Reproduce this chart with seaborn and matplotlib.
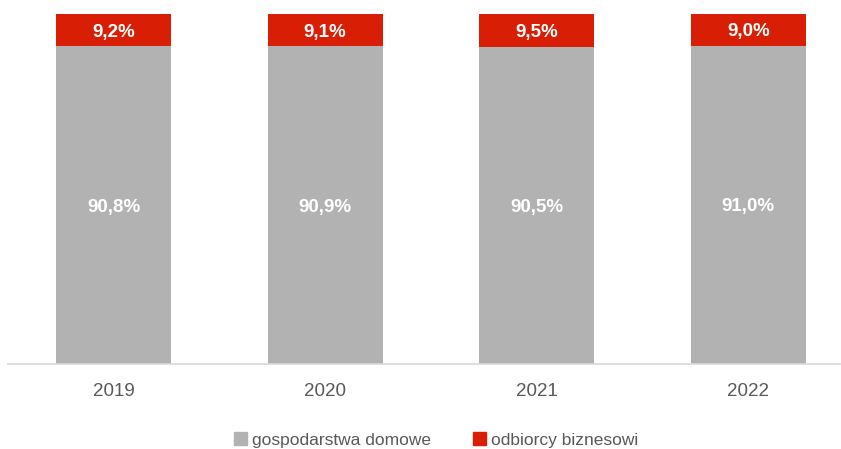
import pandas as pd
import seaborn as sns
import matplotlib.pyplot as plt

years = ['2019', '2020', '2021', '2022']
domowe = [90.8, 90.9, 90.5, 91.0]
biznes = [9.2, 9.1, 9.5, 9.0]

grey = '#b2b2b2'
red = '#d81e05'

sns.set_theme(style='white')
plt.rcParams['font.family'] = ['Liberation Sans Narrow', 'Liberation Sans', 'DejaVu Sans']

df = pd.DataFrame({'rok': years, 'domowe': domowe, 'biznes': biznes})
df['suma'] = df['domowe'] + df['biznes']

fig = plt.figure(figsize=(8.41, 4.49), dpi=100)
ax = fig.add_axes([8 / 841, 1 - 364 / 449, 832 / 841, 350 / 449])

# red on the full height, grey drawn over it from the bottom
sns.barplot(data=df, x='rok', y='suma', color=red, saturation=1, width=0.545,
            linewidth=0, ax=ax)
sns.barplot(data=df, x='rok', y='domowe', color=grey, saturation=1, width=0.545,
            linewidth=0, ax=ax)

for i, row in df.iterrows():
    ax.text(i, row['domowe'] / 2 - 0.6, f"{row['domowe']:.1f}%".replace('.', ','),
            ha='center', va='center', color='white', fontsize=13.5, fontweight='bold')
    ax.text(i, row['domowe'] + row['biznes'] / 2 - 0.6, f"{row['biznes']:.1f}%".replace('.', ','),
            ha='center', va='center', color='white', fontsize=13.5, fontweight='bold')

ax.set_xlim(-0.5, -0.5 + 832 / 211.5)
ax.set_ylim(0, 100)
ax.set(xlabel='', ylabel='', yticks=[])
for s in ['top', 'right', 'left']:
    ax.spines[s].set_visible(False)
ax.spines['bottom'].set_color('#d9d9d9')
ax.tick_params(axis='x', length=0, pad=14, labelsize=13.5, labelcolor='#595959')

handles = [plt.Rectangle((0, 0), 1, 1, color=grey), plt.Rectangle((0, 0), 1, 1, color=red)]
fig.legend(handles, ['gospodarstwa domowe', 'odbiorcy biznesowi'], loc='center',
           bbox_to_anchor=(436 / 841, 1 - 440 / 449), ncol=2, frameon=False,
           fontsize=12.5, labelcolor='#595959', handlelength=0.75, handleheight=0.75,
           handletextpad=0.3, columnspacing=2.4)

fig.savefig('out.png', dpi=100)
